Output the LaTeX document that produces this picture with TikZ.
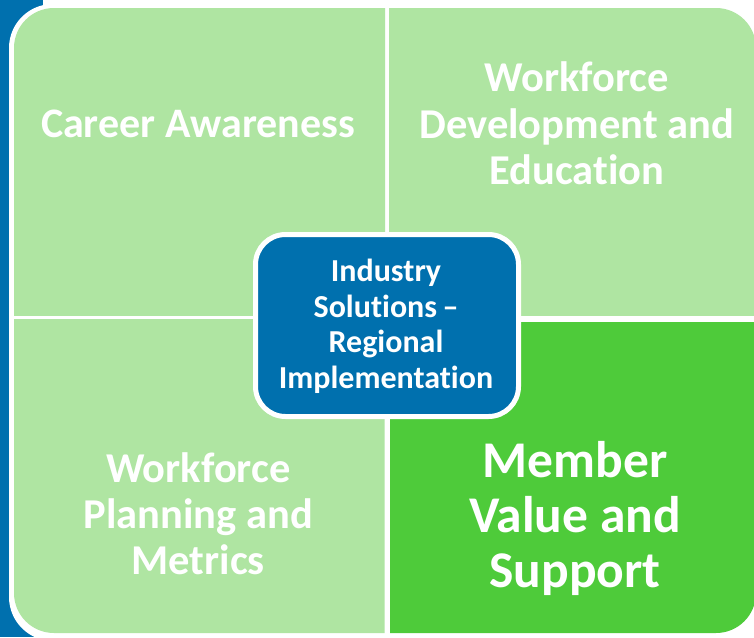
\documentclass[tikz,border=0pt]{standalone}
\usepackage{fontspec}
\setmainfont{Carlito}[Ligatures=CommonOff]
\definecolor{lgreen}{HTML}{AFE5A2}
\definecolor{bgreen}{HTML}{4ECB3A}
\definecolor{cblue}{HTML}{0070AE}
\newcommand\fsz[2]{\fontsize{#1pt}{#2pt}\selectfont\bfseries}
\begin{document}
\begin{tikzpicture}[x=1pt,y=-1pt,
  lbl/.style={inner sep=0pt,anchor=base,text=white}]
\useasboundingbox (0,0) rectangle (754,637);
\fill[white] (0,0) rectangle (754,637);
% blue band at left
\fill[cblue] (0,0) rectangle (43,637);
% white frame of the panel
\fill[white,rounded corners=44] (9,4) rectangle (762,641);
% quadrants
\begin{scope}
\clip (0,0) rectangle (385,315);
\fill[lgreen,rounded corners=40] (14,8) rectangle (756,633);
\end{scope}
\begin{scope}
\clip (389,0) rectangle (760,315);
\fill[lgreen,rounded corners=40] (14,8) rectangle (756,633);
\end{scope}
\begin{scope}
\clip (0,319.5) rectangle (384.5,640);
\fill[lgreen,rounded corners=40] (14,8) rectangle (756,633);
\end{scope}
\begin{scope}
\clip (390,322) rectangle (760,640);
\fill[bgreen,rounded corners=40] (14,8) rectangle (756,633);
\end{scope}
% centre box
\node[draw=white,line width=5pt,fill=cblue,rounded corners=30,
  minimum width=263pt,minimum height=182pt,inner sep=0pt] (hub) at (387,325.5) {};
% labels
\node[lbl] (ca) at (198,137.7) {\parbox[t]{360pt}{\centering\fsz{42}{46.5}Career Awareness}};
\node[lbl] (wde) at (576.7,91.7) {\parbox[t]{360pt}{\centering\fsz{42.5}{46.6}Workforce\\Development and\\Education}};
\node[lbl] (wpm) at (198.3,482.3) {\parbox[t]{360pt}{\centering\fsz{42.5}{46.2}Workforce\\Planning and\\Metrics}};
\node[lbl] (mvs) at (575,477.3) {\parbox[t]{360pt}{\centering\fsz{51.5}{55.3}Member\\Value and\\Support}};
\node[lbl] (isr) at (386,281.7) {\parbox[t]{360pt}{\centering\fsz{32}{35.5}Industry\\Solutions\,–\\Regional\\Implementation}};
\end{tikzpicture}
\end{document}
